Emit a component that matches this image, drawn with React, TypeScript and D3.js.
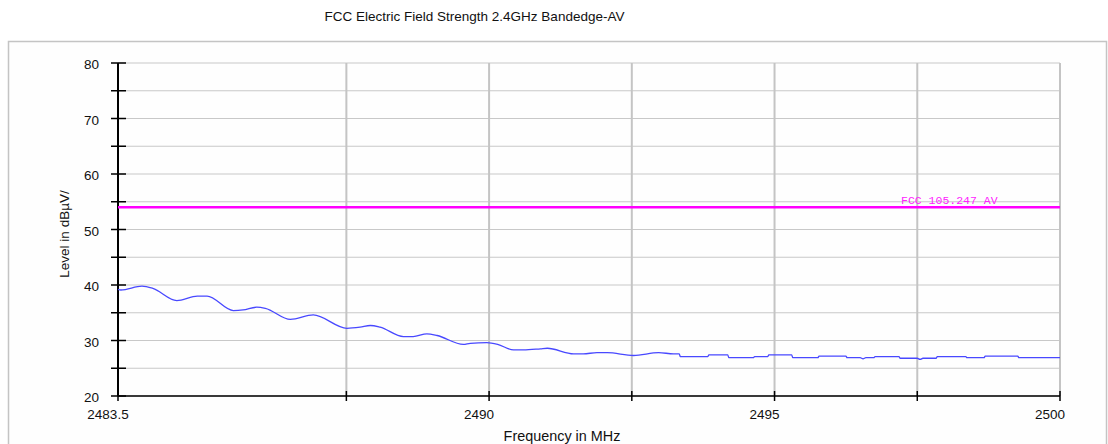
import React from "react";
import * as d3 from "d3";

const freqs = [
  2483.5, 2483.55, 2483.92, 2484.11, 2484.53, 2484.89, 2485.06, 2485.52, 2485.69, 2485.93,
  2486.08, 2486.52, 2486.92, 2487.51, 2487.74, 2487.92, 2488.09, 2488.5, 2488.67, 2488.91,
  2489.09, 2489.55, 2489.67, 2489.96, 2490.15, 2490.43, 2490.6, 2490.9, 2491.02, 2491.48,
  2491.65, 2491.89, 2492.07, 2492.53, 2492.97, 2493.23, 2493.33, 2493.35, 2493.83, 2493.85,
  2494.18, 2494.2, 2494.35, 2494.63, 2494.65, 2494.88, 2494.9, 2495.11, 2495.3, 2495.32,
  2495.76, 2495.78, 2496.25, 2496.27, 2496.5, 2496.55, 2496.6, 2496.74, 2496.76, 2497.18,
  2497.2, 2497.5, 2497.55, 2497.6, 2497.83, 2497.85, 2498.35, 2498.37, 2498.67, 2498.69,
  2499.26, 2499.28, 2500.0,
];
const levels = [
  39.2, 39.1, 39.8, 39.4, 37.2, 38.0, 38.0, 35.4, 35.5, 36.0,
  35.8, 33.8, 34.6, 32.2, 32.4, 32.7, 32.4, 30.7, 30.7, 31.2,
  30.9, 29.3, 29.5, 29.6, 29.3, 28.3, 28.3, 28.5, 28.6, 27.6,
  27.6, 27.8, 27.8, 27.3, 27.8, 27.6, 27.6, 27.1, 27.1, 27.4,
  27.4, 26.9, 26.9, 26.9, 27.1, 27.1, 27.4, 27.4, 27.4, 26.9,
  26.9, 27.2, 27.2, 26.9, 26.9, 26.7, 26.9, 26.9, 27.1, 27.1,
  26.8, 26.8, 26.6, 26.8, 26.8, 27.1, 27.1, 26.9, 26.9, 27.2,
  27.2, 26.9, 26.9,
];

const limitLevel = 54;
const limitLabel = "FCC 105.247 AV";
const yTicks = [20, 30, 40, 50, 60, 70, 80];
const yMinor = [25, 35, 45, 55, 65, 75];
const xGrid = [2487.5, 2490, 2492.5, 2495, 2497.5, 2500];
const xTickMarks = [2483.5, 2487.5, 2490, 2492.5, 2495, 2497.5, 2500];
const xLabels = [2483.5, 2490, 2495, 2500];
const title = "FCC Electric Field Strength 2.4GHz Bandedge-AV";
const xTitle = "Frequency in MHz";
const yTitle = "Level in dBµV/";

const W = 1108;
const H = 444;
const L = 118, R = 1060, T = 63, B = 396;

export default function App() {
  const x = d3.scaleLinear().domain([2483.5, 2500]).range([L, R]);
  const y = d3.scaleLinear().domain([20, 80]).range([B, T]);
  const pts = freqs.map((f, i) => [f, levels[i]] as [number, number]);
  const line = d3
    .line<[number, number]>()
    .x((d) => x(d[0]))
    .y((d) => y(d[1]))
    .curve(d3.curveMonotoneX);
  const font = "Arial, 'Liberation Sans', sans-serif";
  return (
    <svg
      width={W}
      height={H}
      style={{ position: "absolute", left: 0, top: 0, background: "#fff" }}
    >
      <rect x={8.5} y={41.5} width={1098} height={420} fill="#fefefe" stroke="#c4c4c4" strokeWidth={1.5} />
      <text x={474.5} y={21} textAnchor="middle" fontFamily={font} fontSize={13.5} fill="#111">
        {title}
      </text>
      {[...yTicks, ...yMinor].map((v) => (
        <line key={"h" + v} x1={L} x2={R} y1={y(v)} y2={y(v)} stroke="#c8c8c8" strokeWidth={1.2} />
      ))}
      {xGrid.map((v) => (
        <line key={"v" + v} x1={x(v)} x2={x(v)} y1={T} y2={B} stroke="#c4c4c4" strokeWidth={2} />
      ))}
      <line x1={L} x2={R} y1={B} y2={B} stroke="#000" strokeWidth={1.5} />
      {xTickMarks.map((v) => (
        <line key={"xt" + v} x1={x(v)} x2={x(v)} y1={B - 5} y2={B + 5} stroke="#000" strokeWidth={1.5} />
      ))}
      <line x1={L} x2={L} y1={T} y2={B} stroke="#000" strokeWidth={2} />
      {[...yTicks, ...yMinor].map((v) => (
        <line key={"yt" + v} x1={L - 7} x2={L + 8} y1={y(v)} y2={y(v)} stroke="#000" strokeWidth={1.5} />
      ))}
      {yTicks.map((v) => (
        <text key={"yl" + v} x={99} y={y(v) + 6.3} textAnchor="end" fontFamily={font} fontSize={13.5} fill="#111">
          {v}
        </text>
      ))}
      {xLabels.map((v) => (
        <text key={"xl" + v} x={x(v) - 10} y={419} textAnchor="middle" fontFamily={font} fontSize={13.5} fill="#111">
          {v}
        </text>
      ))}
      <text x={562} y={440.5} textAnchor="middle" fontFamily={font} fontSize={14.4} fill="#111">
        {xTitle}
      </text>
      <text
        transform={`translate(69, 234) rotate(-90)`}
        textAnchor="middle"
        fontFamily={font}
        fontSize={13.5}
        fill="#111"
      >
        {yTitle}
      </text>
      <line x1={L} x2={R} y1={y(limitLevel)} y2={y(limitLevel)} stroke="#ff00ff" strokeWidth={2.5} />
      <text x={901} y={204} fontFamily="'Liberation Mono', 'DejaVu Sans Mono', monospace" fontSize={11.5} fill="#ff22ff">
        {limitLabel}
      </text>
      <path d={line(pts) || ""} fill="none" stroke="#4848ff" strokeWidth={1.3} />
    </svg>
  );
}
